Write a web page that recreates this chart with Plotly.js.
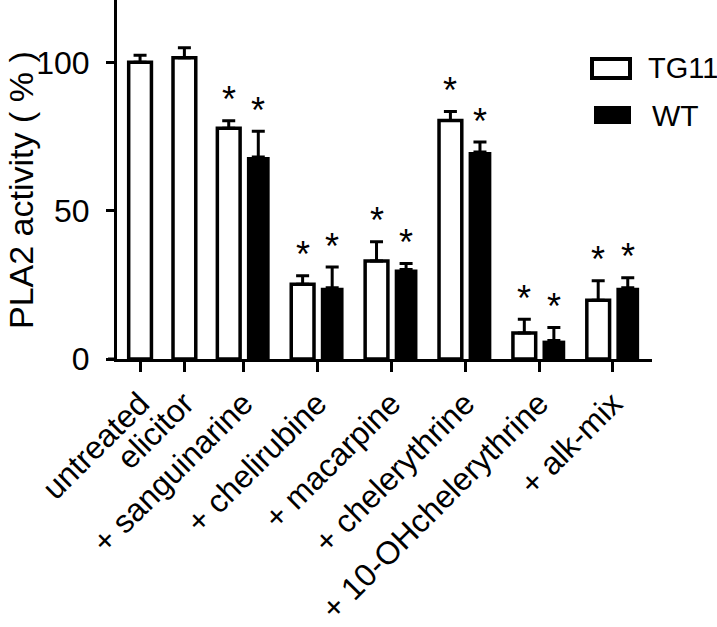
<!DOCTYPE html>
<html>
<head>
<meta charset="utf-8">
<script src="https://cdn.plot.ly/plotly-3.0.1.min.js"></script>
<style>
  html, body { margin: 0; padding: 0; background: #ffffff; }
  #chart { width: 717px; height: 627px; }
</style>
</head>
<body>
<div id="chart"></div>
<script>
// ---- data ----
const categories = ["untreated", "elicitor", "+ sanguinarine", "+ chelirubine",
  "+ macarpine", "+ chelerythrine", "+ 10-OHchelerythrine", "+ alk-mix"];
const tg11 = [100, 101.5, 77.8, 25.2, 33.0, 80.4, 8.8, 19.8];
const tg11Err = [2.4, 3.4, 2.5, 2.9, 6.5, 3.0, 4.6, 6.6];
const wt = [null, null, 68.1, 24.0, 30.2, 69.8, 6.2, 24.0];
const wtErr = [null, null, 8.7, 7.0, 2.0, 3.3, 4.4, 3.4];
const tg11Sig = [false, false, true, true, true, true, true, true];
const wtSig = [false, false, true, true, true, true, true, true];
const yTicks = [0, 50, 100];
const seriesNames = ["TG11", "WT"];
const yTitle = "PLA2 activity ( % )";

// ---- layout of bar slots (1 slot per bar, 1.5 slots between groups) ----
const tgX = [], wtX = [], tickX = [];
let pos = 0;
categories.forEach((c, i) => {
  tgX.push(pos);
  if (wt[i] !== null) {
    wtX.push(pos + 1);
    tickX.push(pos + 0.5);
    pos += 2.5;
  } else {
    wtX.push(null);
    tickX.push(pos);
    pos += 1.5;
  }
});

const FONT = "Liberation Sans, Arial, Helvetica, sans-serif";
const barW = 0.77;

const traceTG = {
  type: "bar", name: seriesNames[0],
  x: tgX, y: tg11, width: barW,
  marker: { color: "#ffffff", line: { color: "#000000", width: 3.5 } },
  error_y: { type: "data", symmetric: false, array: tg11Err,
    arrayminus: tg11Err.map(() => 0), color: "#000000", thickness: 3, width: 6.5 },
  hoverinfo: "skip"
};
const wtIdx = wt.map((v, i) => i).filter(i => wt[i] !== null);
const traceWT = {
  type: "bar", name: seriesNames[1],
  x: wtIdx.map(i => wtX[i]), y: wtIdx.map(i => wt[i]), width: barW,
  marker: { color: "#000000", line: { color: "#000000", width: 0 } },
  error_y: { type: "data", symmetric: false, array: wtIdx.map(i => wtErr[i]),
    arrayminus: wtIdx.map(() => 0), color: "#000000", thickness: 3, width: 6.5 },
  hoverinfo: "skip"
};

// significance asterisks
const starFont = { family: FONT, size: 36, color: "#000" };
const annotations = [];
categories.forEach((c, i) => {
  if (tg11Sig[i]) annotations.push({ x: tgX[i], y: tg11[i] + tg11Err[i], xref: "x", yref: "y",
    text: "*", showarrow: false, yanchor: "middle", yshift: 21, font: starFont });
  if (wtSig[i] && wt[i] !== null) annotations.push({ x: wtX[i], y: wt[i] + wtErr[i], xref: "x", yref: "y",
    text: "*", showarrow: false, yanchor: "middle", yshift: 21, font: starFont });
});

// manual legend (large swatches)
const L = 117, R = 652, T = 0, B = 359;
const px = v => (v - L) / (R - L);
const py = v => (B - v) / (B - T);
const shapes = [
  { type: "rect", xref: "paper", yref: "paper", x0: px(592), x1: px(630), y0: py(78), y1: py(59),
    fillcolor: "#ffffff", line: { color: "#000000", width: 4 } },
  { type: "rect", xref: "paper", yref: "paper", x0: px(594), x1: px(631), y0: py(124), y1: py(106),
    fillcolor: "#000000", line: { color: "#000000", width: 0 } },
  { type: "line", xref: "paper", yref: "paper", x0: px(108), x1: 0, y0: 0, y1: 0,
    line: { color: "#000000", width: 3 } }
];
annotations.push({ xref: "paper", yref: "paper", x: px(646), y: py(68), xanchor: "left", yanchor: "middle",
  text: seriesNames[0], showarrow: false, font: { family: FONT, size: 29, color: "#000" } });
annotations.push({ xref: "paper", yref: "paper", x: px(650), y: py(115), xanchor: "left", yanchor: "middle",
  text: seriesNames[1], showarrow: false, font: { family: FONT, size: 30, color: "#000" } });
// y-axis title placed precisely
annotations.push({ xref: "paper", yref: "paper", x: px(21), y: py(190), xanchor: "center", yanchor: "middle",
  text: yTitle, textangle: -90, showarrow: false, font: { family: FONT, size: 34, color: "#000" } });

const layout = {
  width: 717, height: 627,
  margin: { l: L, r: 717 - R, t: T, b: 627 - B, pad: 0 },
  paper_bgcolor: "#ffffff", plot_bgcolor: "#ffffff",
  showlegend: false,
  barmode: "overlay",
  font: { family: FONT, color: "#000000" },
  xaxis: {
    range: [-0.78, 17.32], tickmode: "array", tickvals: tickX, ticktext: categories,
    tickangle: -45, ticks: "outside", ticklen: 10, tickwidth: 3, tickcolor: "#000",
    showline: true, linewidth: 3, linecolor: "#000", showgrid: false, zeroline: false,
    tickfont: { family: FONT, size: 32, color: "#000" }, fixedrange: true
  },
  yaxis: {
    range: [0, 121], tickmode: "array", tickvals: yTicks, ticktext: yTicks.map(String),
    ticks: "outside", ticklen: 8, tickwidth: 3, tickcolor: "#000", ticklabelstandoff: 10,
    showline: true, linewidth: 3, linecolor: "#000", showgrid: false, zeroline: false,
    tickfont: { family: FONT, size: 32, color: "#000" },
    fixedrange: true
  },
  shapes: shapes,
  annotations: annotations
};

Plotly.newPlot("chart", [traceTG, traceWT], layout, { displayModeBar: false, staticPlot: true });
</script>
</body>
</html>
